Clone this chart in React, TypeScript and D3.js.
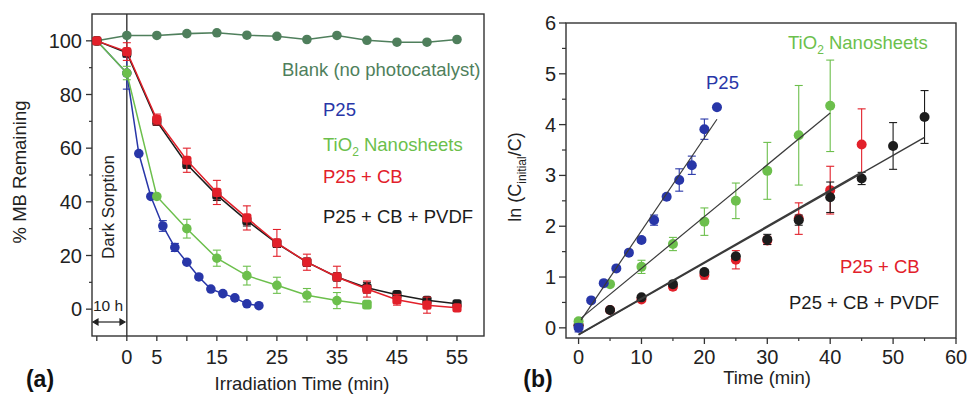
import React from "react";
import * as d3 from "d3";

// ---------- Panel (a) data ----------
const blankX = [-5, 0, 5, 10, 15, 20, 25, 30, 35, 40, 45, 50, 55];
const blankY = [100, 102, 102, 102.7, 103, 102.1, 101.7, 100.5, 102, 100.2, 99.5, 99.5, 100.5];

const p25X = [-5, 0, 2, 4, 6, 8, 10, 12, 14, 16, 18, 20, 22];
const p25Y = [100, 88, 58, 42, 31, 23, 17.5, 12, 7.5, 5.8, 4.2, 2, 1.3];
const p25Err = [0, 6, 0, 0, 2, 1.5, 0, 0, 0, 0, 0, 0, 0];

const nsX = [-5, 0, 5, 10, 15, 20, 25, 30, 35, 40];
const nsY = [100, 88, 42, 30, 19, 12.5, 8.9, 5.2, 3.2, 1.7];
const nsErr = [0, 2.5, 0, 3.5, 3, 3.5, 3, 2.5, 3, 0];

const cbX = [-5, 0, 5, 10, 15, 20, 25, 30, 35, 40, 45, 50, 55];
const cbY = [100, 96, 70.7, 55.5, 43.5, 34, 24.7, 17.5, 12, 7.5, 3.5, 1.5, 0.5];
const cbErr = [0, 3.3, 2, 4.5, 4.5, 4.5, 5, 3, 4, 3, 2, 3, 1];

const pvdfX = [-5, 0, 5, 10, 15, 20, 25, 30, 35, 40, 45, 50, 55];
const pvdfY = [100, 95.5, 70, 54, 42.5, 33, 24.5, 17.5, 12, 8, 5.4, 3.3, 2];
const pvdfErr = [0, 1.5, 1.5, 1.5, 2, 2, 1.5, 1.5, 1.5, 2, 1, 1, 1];

const aXTicks = [-5, 0, 5, 10, 15, 20, 25, 30, 35, 40, 45, 50, 55];
const aXLabels = ["", "0", "5", "", "15", "", "25", "", "35", "", "45", "", "55"];
const aYMajor = [0, 20, 40, 60, 80, 100];
const aYMinor = [10, 30, 50, 70, 90];

// ---------- Panel (b) data ----------
const kP25X = [0, 2, 4, 6, 8, 10, 12, 14, 16, 18, 20, 22];
const kP25Y = [0, 0.54, 0.88, 1.17, 1.48, 1.73, 2.12, 2.58, 2.91, 3.2, 3.91, 4.34];
const kP25Err = [0.08, 0, 0, 0, 0, 0.05, 0.1, 0, 0.22, 0.18, 0.2, 0];

const kNsX = [0, 5, 10, 15, 20, 25, 30, 35, 40];
const kNsY = [0.13, 0.86, 1.2, 1.65, 2.09, 2.5, 3.09, 3.79, 4.37];
const kNsErr = [0.05, 0, 0.13, 0.13, 0.27, 0.35, 0.56, 0.98, 0.9];

const kCbX = [0, 5, 10, 15, 20, 25, 30, 35, 40, 45];
const kCbY = [0.05, 0.35, 0.56, 0.81, 1.04, 1.34, 1.72, 2.15, 2.71, 3.61];
const kCbErr = [0.05, 0.02, 0.04, 0.06, 0.08, 0.18, 0.08, 0.31, 0.47, 0.7];

const kPvdfX = [0, 5, 10, 15, 20, 25, 30, 35, 40, 45, 50, 55];
const kPvdfY = [0.05, 0.35, 0.6, 0.86, 1.1, 1.41, 1.74, 2.12, 2.57, 2.94, 3.58, 4.15];
const kPvdfErr = [0.03, 0.02, 0.03, 0.04, 0.05, 0.05, 0.1, 0.1, 0.3, 0.12, 0.46, 0.52];

const fitSlope = [0.183, 0.102, 0.071, 0.0707];
const fitIntercept = [0.08, 0.15, -0.13, -0.14];
const fitStart = [0.4, 0.4, 0, 0];
const fitEnd = [22, 40, 45, 55];
const fitWidth = [1.2, 1.2, 1.6, 1.4];

const bXMajor = [0, 10, 20, 30, 40, 50, 60];
const bXMinor = [5, 15, 25, 35, 45, 55];
const bYMajor = [0, 1, 2, 3, 4, 5, 6];
const bYMinor = [0.5, 1.5, 2.5, 3.5, 4.5, 5.5];

// ---------- styles ----------
const C_BLUE = "#2836a8";
const C_GREEN = "#6cbf4c";
const C_RED = "#e2202a";
const C_BLACK = "#1c1c1c";
const C_BLANK = "#4f7f5c";
const C_AXIS = "#333";
const FONT = "'Liberation Sans', Arial, Helvetica, sans-serif";

type Pt = { x: number; y: number; e: number };
const zipPts = (xs: number[], ys: number[], es?: number[]): Pt[] =>
  xs.map((x, i) => ({ x, y: ys[i], e: es ? es[i] : 0 }));

function Series({ pts, xs, ys, color, shape, r, line, lw }: any) {
  const lineGen = d3
    .line<Pt>()
    .x((d) => xs(d.x))
    .y((d) => ys(d.y));
  const cap = 4;
  return (
    <g>
      {line && <path d={lineGen(pts) || ""} fill="none" stroke={color} strokeWidth={lw || 1.5} />}
      {pts.map((p: Pt, i: number) =>
        p.e > 0 ? (
          <g key={"e" + i} stroke={color} strokeWidth={1.1}>
            <line x1={xs(p.x)} x2={xs(p.x)} y1={ys(p.y - p.e)} y2={ys(p.y + p.e)} />
            <line x1={xs(p.x) - cap} x2={xs(p.x) + cap} y1={ys(p.y - p.e)} y2={ys(p.y - p.e)} />
            <line x1={xs(p.x) - cap} x2={xs(p.x) + cap} y1={ys(p.y + p.e)} y2={ys(p.y + p.e)} />
          </g>
        ) : null
      )}
      {pts.map((p: Pt, i: number) => {
        const s = typeof shape === "function" ? shape(i) : shape;
        return s === "square" ? (
          <rect
            key={"m" + i}
            x={xs(p.x) - r}
            y={ys(p.y) - r}
            width={2 * r}
            height={2 * r}
            rx={2.5}
            fill={color}
          />
        ) : (
          <circle key={"m" + i} cx={xs(p.x)} cy={ys(p.y)} r={r} fill={color} />
        );
      })}
    </g>
  );
}

export default function App() {
  // Panel (a) scales
  const ax = d3.scaleLinear().domain([-5.8, 59.5]).range([92, 484]);
  const ay = d3.scaleLinear().domain([-10, 110]).range([336, 14]);
  // Panel (b) scales
  const bx = d3.scaleLinear().domain([-2, 60]).range([566, 956]);
  const by = d3.scaleLinear().domain([-0.2, 6]).range([338, 23]);

  const tickFont = 20;

  return (
    <div style={{ position: "absolute", left: 0, top: 0 }}>
      <svg width={968} height={394} style={{ display: "block", background: "#fff" }} fontFamily={FONT}>
        {/* ================= Panel (a) ================= */}
        <rect x={92} y={14} width={392} height={322} fill="none" stroke={C_AXIS} strokeWidth={1.4} />
        <line x1={ax(0)} x2={ax(0)} y1={14} y2={336} stroke={C_AXIS} strokeWidth={1.4} />
        {aYMajor.map((v) => (
          <g key={"ay" + v}>
            <line x1={86} x2={92} y1={ay(v)} y2={ay(v)} stroke={C_AXIS} strokeWidth={1.3} />
            <text x={82} y={ay(v) + 7} textAnchor="end" fontSize={tickFont} fill="#222">
              {v}
            </text>
          </g>
        ))}
        {aYMinor.map((v) => (
          <line key={"aym" + v} x1={89} x2={92} y1={ay(v)} y2={ay(v)} stroke={C_AXIS} strokeWidth={1.2} />
        ))}
        {aXTicks.map((v, i) => (
          <g key={"ax" + v}>
            <line x1={ax(v)} x2={ax(v)} y1={336} y2={341} stroke={C_AXIS} strokeWidth={1.3} />
            {aXLabels[i] && (
              <text x={ax(v)} y={364} textAnchor="middle" fontSize={tickFont} fill="#222">
                {aXLabels[i]}
              </text>
            )}
          </g>
        ))}
        <text x={302} y={390} textAnchor="middle" fontSize={18.5} fill="#222">
          Irradiation Time (min)
        </text>
        <text
          transform={`translate(26,172) rotate(-90)`}
          textAnchor="middle"
          fontSize={18.5}
          fill="#222"
        >
          % MB Remaining
        </text>
        <text transform={`translate(114,207) rotate(-90)`} textAnchor="middle" fontSize={17} fill="#222">
          Dark Sorption
        </text>
        <text x={108} y={311} textAnchor="middle" fontSize={15.5} fill="#222">
          10 h
        </text>
        <g stroke="#222" strokeWidth={1.2} fill="#222">
          <line x1={96} x2={122} y1={322} y2={322} />
          <path d="M93,322 l5,-3 l0,6 z" />
          <path d="M125,322 l-5,-3 l0,6 z" />
        </g>
        <text x={40} y={387} fontSize={23} fontWeight="bold" textAnchor="middle" fill="#111">
          (a)
        </text>

        <Series pts={zipPts(blankX, blankY)} xs={ax} ys={ay} color={C_BLANK} shape="circle" r={4.8} line lw={1.6} />
        <Series pts={zipPts(p25X, p25Y, p25Err)} xs={ax} ys={ay} color={C_BLUE} shape="circle" r={4.8} line lw={1.5} />
        <Series
          pts={zipPts(nsX, nsY, nsErr)}
          xs={ax}
          ys={ay}
          color={C_GREEN}
          shape={(i: number) => (i === nsX.length - 1 ? "square" : "circle")}
          r={4.8}
          line
          lw={1.5}
        />
        <Series pts={zipPts(pvdfX, pvdfY, pvdfErr)} xs={ax} ys={ay} color={C_BLACK} shape="square" r={4.6} line lw={1.5} />
        <Series pts={zipPts(cbX, cbY, cbErr)} xs={ax} ys={ay} color={C_RED} shape="square" r={4.6} line lw={1.5} />

        <text x={282} y={76} fontSize={18.5} fill={C_BLANK}>
          Blank (no photocatalyst)
        </text>
        <text x={323} y={116} fontSize={18.5} fill={C_BLUE}>
          P25
        </text>
        <text x={323} y={151} fontSize={18.5} fill={C_GREEN}>
          TiO
          <tspan fontSize={12} dy={5}>
            2
          </tspan>
          <tspan dy={-5}> Nanosheets</tspan>
        </text>
        <text x={323} y={183} fontSize={18.5} fill={C_RED}>
          P25 + CB
        </text>
        <text x={323} y={223} fontSize={18.5} fill={C_BLACK}>
          P25 + CB + PVDF
        </text>

        {/* ================= Panel (b) ================= */}
        <rect x={566} y={23} width={390} height={315} fill="none" stroke={C_AXIS} strokeWidth={1.4} />
        {bYMajor.map((v) => (
          <g key={"by" + v}>
            <line x1={559} x2={566} y1={by(v)} y2={by(v)} stroke={C_AXIS} strokeWidth={1.3} />
            <text x={556} y={by(v) + 7} textAnchor="end" fontSize={tickFont} fill="#222">
              {v}
            </text>
          </g>
        ))}
        {bYMinor.map((v) => (
          <line key={"bym" + v} x1={562} x2={566} y1={by(v)} y2={by(v)} stroke={C_AXIS} strokeWidth={1.2} />
        ))}
        {bXMajor.map((v) => (
          <g key={"bx" + v}>
            <line x1={bx(v)} x2={bx(v)} y1={338} y2={344} stroke={C_AXIS} strokeWidth={1.3} />
            <text x={bx(v)} y={364} textAnchor="middle" fontSize={tickFont} fill="#222">
              {v}
            </text>
          </g>
        ))}
        {bXMinor.map((v) => (
          <line key={"bxm" + v} x1={bx(v)} x2={bx(v)} y1={338} y2={341} stroke={C_AXIS} strokeWidth={1.2} />
        ))}
        <text x={767} y={384} textAnchor="middle" fontSize={18.5} fill="#222">
          Time (min)
        </text>
        <text transform={`translate(521,177) rotate(-90)`} textAnchor="middle" fontSize={18} fill="#222">
          ln (C
          <tspan fontSize={12} dy={5}>
            initial
          </tspan>
          <tspan dy={-5}>/C)</tspan>
        </text>
        <text x={538} y={387} fontSize={23} fontWeight="bold" textAnchor="middle" fill="#111">
          (b)
        </text>

        <Series pts={zipPts(kCbX, kCbY, kCbErr)} xs={bx} ys={by} color={C_RED} shape="circle" r={5} />
        <Series pts={zipPts(kPvdfX, kPvdfY, kPvdfErr)} xs={bx} ys={by} color={C_BLACK} shape="circle" r={5} />
        <Series pts={zipPts(kNsX, kNsY, kNsErr)} xs={bx} ys={by} color={C_GREEN} shape="circle" r={5} />
        <Series pts={zipPts(kP25X, kP25Y, kP25Err)} xs={bx} ys={by} color={C_BLUE} shape="circle" r={5} />

        {fitSlope.map((s, i) => (
          <line
            key={"fit" + i}
            x1={bx(fitStart[i])}
            x2={bx(fitEnd[i])}
            y1={by(fitIntercept[i] + s * fitStart[i])}
            y2={by(fitIntercept[i] + s * fitEnd[i])}
            stroke="#3a3a3a"
            strokeWidth={fitWidth[i]}
          />
        ))}

        <text x={706} y={89} fontSize={18.5} fill={C_BLUE}>
          P25
        </text>
        <text x={788} y={49} fontSize={18.5} fill={C_GREEN}>
          TiO
          <tspan fontSize={12} dy={5}>
            2
          </tspan>
          <tspan dy={-5}> Nanosheets</tspan>
        </text>
        <text x={840} y={273} fontSize={18.5} fill={C_RED}>
          P25 + CB
        </text>
        <text x={789} y={309} fontSize={18.5} fill={C_BLACK}>
          P25 + CB + PVDF
        </text>
      </svg>
    </div>
  );
}
